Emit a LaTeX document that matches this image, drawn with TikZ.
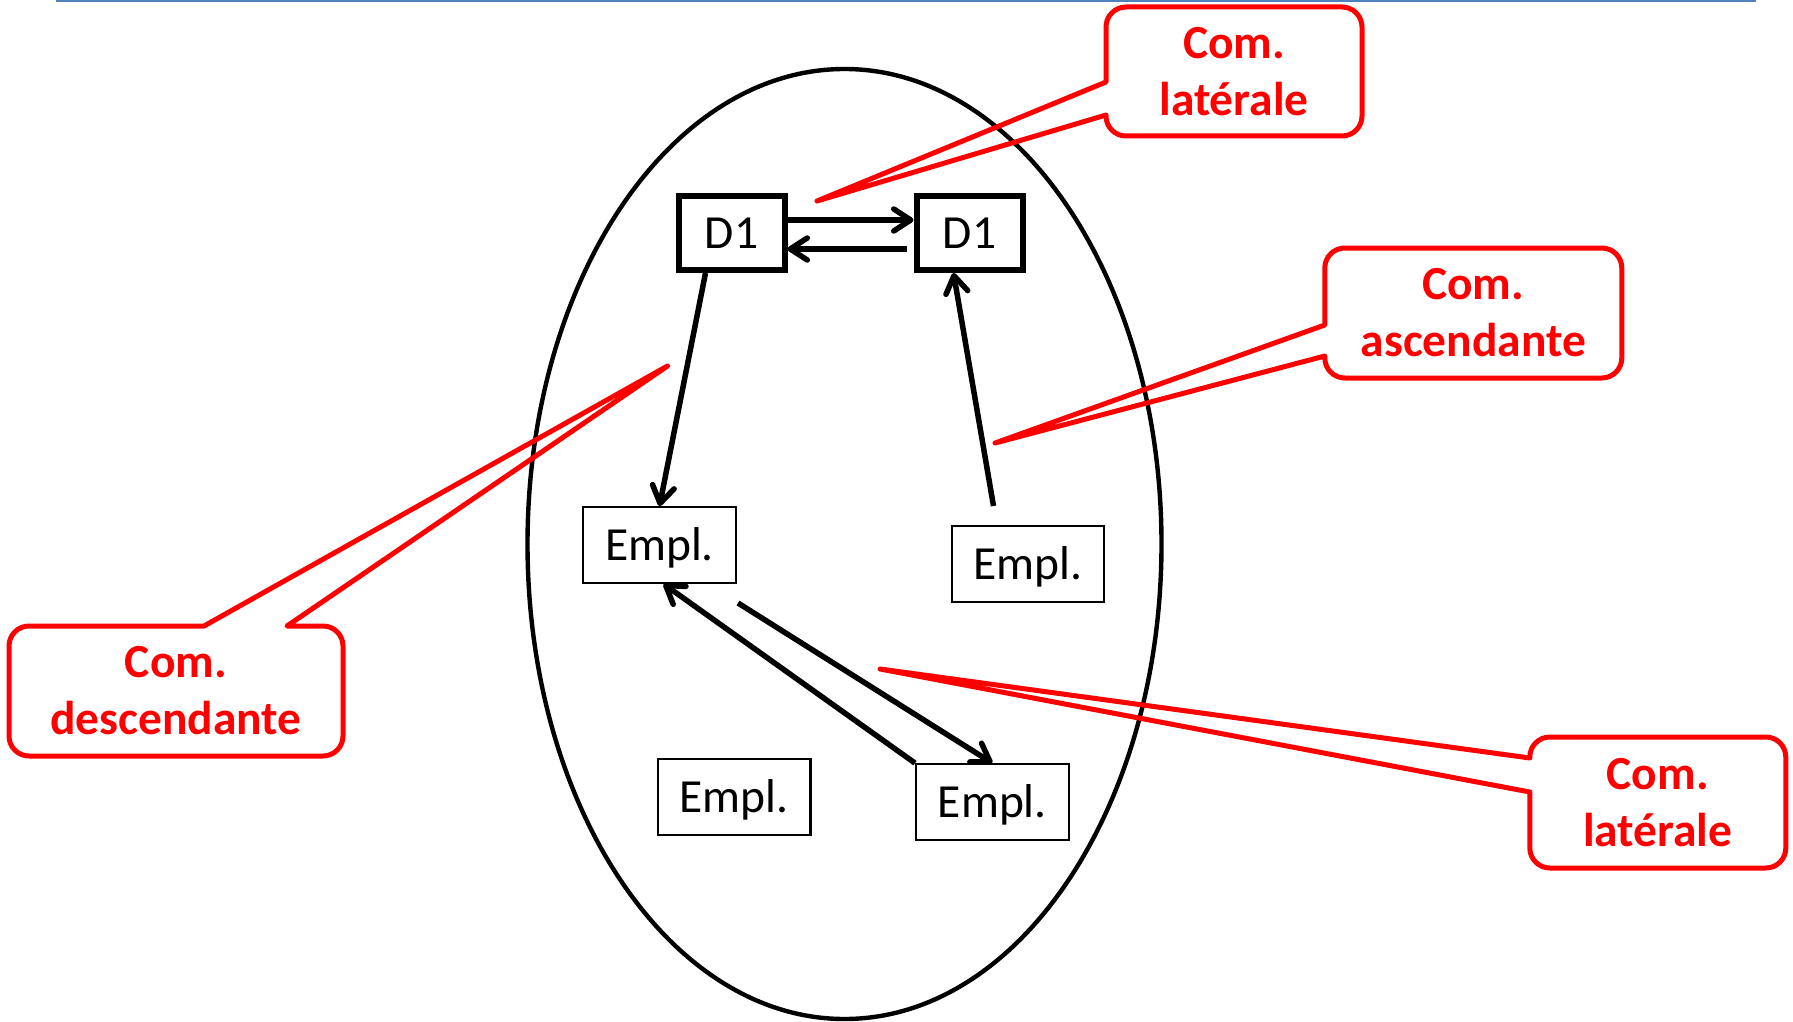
\documentclass[tikz,border=0pt]{standalone}
\usepackage{fontspec}
\setmainfont{Carlito}
\usetikzlibrary{arrows.meta,calc}
\definecolor{rulerblue}{RGB}{79,129,189}
\tikzset{
  boss/.style={draw, line width=6pt, minimum width=106pt, minimum height=74pt, inner sep=0pt,
    font=\fontsize{47.5}{56}\selectfont, text height=30.5pt, text depth=0pt},
  empl/.style={draw, line width=2.3pt, minimum width=152.5pt, minimum height=75.5pt, inner sep=0pt,
    font=\fontsize{47.5}{56}\selectfont, text height=30.5pt, text depth=0pt},
  flow/.style={line width=5.5pt, -{Straight Barb[length=17pt,width=22pt,round]}},
  bubble/.style 2 args={inner sep=0pt, outer sep=0pt, align=center, text=red,
    minimum width=#1, minimum height=#2, font=\fontsize{47.5}{57}\selectfont\bfseries},
  bubbleline/.style={draw=red, line width=5pt, line join=round},
}

\begin{document}
\begin{tikzpicture}[x=1pt, y=-1pt]
    \useasboundingbox (0,0) rectangle (1793,1022);
    \draw[line width=2.5pt, rulerblue] (56,1) -- (1756,1);
    \draw[line width=4.4pt] (844.5,544) ellipse [x radius=317, y radius=475];

    \node[boss] (d1a) at (731.5,233) {D1};
    \node[boss] (d1b) at (969.5,233) {D1};
    \node[empl] (e1) at (659.5,545) {Empl.};
    \node[empl] (e2) at (1028,564) {Empl.};
    \node[empl] (e3) at (734.3,797) {Empl.};
    \node[empl] (e4) at (992.4,802) {Empl.};
    \coordinate (e2top) at (993.5,506);
    \coordinate (e1low) at (738,603);

    \draw[flow] ([yshift=13pt]d1a.east) -- ([yshift=13pt]d1b.west);
    \draw[flow] ([shift={(-7pt,-16pt)}]d1b.west) -- ([yshift=-16pt]d1a.east);
    \draw[flow] ([xshift=-26pt]d1a.south) -- (e1.north);
    \draw[flow] (e2top) -- ([xshift=-16pt]d1b.south);
    \draw[flow] (e4.north west) -- ([xshift=4pt]e1.south);
    \draw[flow] (e1low) -- (e4.north);

    \node[bubble={256pt}{129pt}] (latA) at (1234,71.5) {Com.\\latérale};
    \node[bubble={297pt}{130pt}] (asc) at (1473.3,313) {Com.\\ascendante};
    \node[bubble={334pt}{130pt}] (desc) at (176,691) {Com.\\descendante};
    \node[bubble={256pt}{131pt}] (latB) at (1657.8,802.5) {Com.\\latérale};
    \coordinate (tipA) at (817,201);
    \coordinate (tipAsc) at (995,443);
    \coordinate (tipDesc) at (667.5,366);
    \coordinate (tipB) at (880,669);

    \draw[bubbleline] ($(latA.north west)+(0,108)$) -- (tipA) -- ($(latA.north west)+(0,75)$)
        [rounded corners=20pt] -- (latA.north west) -- (latA.north east) -- (latA.south east)
        -- (latA.south west) [sharp corners] -- cycle;
    \draw[bubbleline] ($(asc.north west)+(0,108)$) -- (tipAsc) -- ($(asc.north west)+(0,77)$)
        [rounded corners=20pt] -- (asc.north west) -- (asc.north east) -- (asc.south east)
        -- (asc.south west) [sharp corners] -- cycle;
    \draw[bubbleline] ($(desc.north west)+(195,0)$) -- (tipDesc) -- ($(desc.north west)+(278,0)$)
        [rounded corners=20pt] -- (desc.north east) -- (desc.south east) -- (desc.south west)
        -- (desc.north west) [sharp corners] -- cycle;
    \draw[bubbleline] ($(latB.north west)+(0,55)$) -- (tipB) -- ($(latB.north west)+(0,21)$)
        [rounded corners=20pt] -- (latB.north west) -- (latB.north east) -- (latB.south east)
        -- (latB.south west) [sharp corners] -- cycle;
\end{tikzpicture}
\end{document}
